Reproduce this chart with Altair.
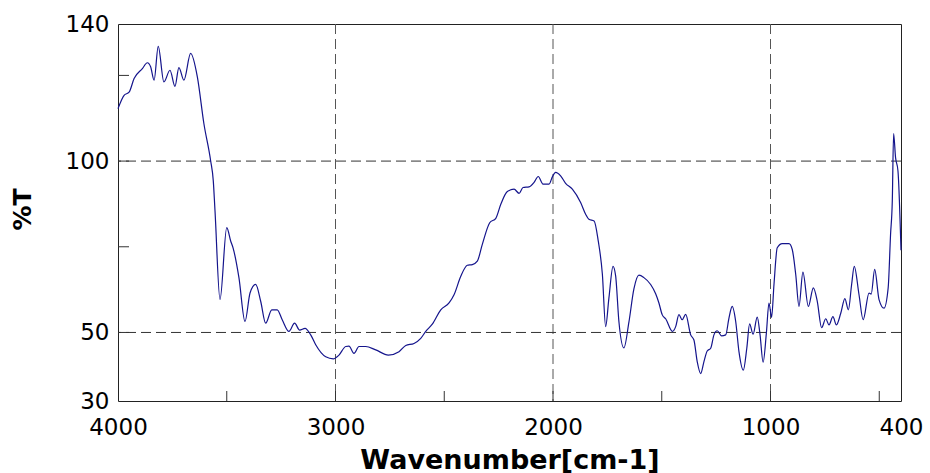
import altair as alt
import pandas as pd

# Wavenumber (cm-1) and %T
wavenumber = [4000, 3972, 3949, 3926, 3888, 3865, 3850, 3834, 3815, 3789, 3761, 3738, 3720, 3697,
              3666, 3635, 3605, 3574, 3562, 3554, 3531, 3500, 3482, 3471, 3444, 3416, 3393, 3367,
              3344, 3321, 3293, 3268, 3245, 3214, 3188, 3165, 3140, 3114, 3091, 3045, 3010, 2984,
              2953, 2938, 2915, 2892, 2861, 2815, 2757, 2708, 2677, 2639, 2608, 2585, 2555, 2516,
              2478, 2455, 2424, 2394, 2371, 2348, 2325, 2291, 2263, 2240, 2210, 2179, 2156, 2138,
              2110, 2087, 2068, 2046, 2018, 2003, 1988, 1965, 1942, 1911, 1873, 1850, 1835, 1811,
              1792, 1773, 1758, 1743, 1724, 1712, 1697, 1674, 1651, 1628, 1605, 1582, 1551, 1528,
              1513, 1498, 1482, 1451, 1436, 1421, 1406, 1390, 1367, 1352, 1337, 1321, 1306, 1291,
              1275, 1260, 1245, 1225, 1206, 1191, 1176, 1160, 1145, 1125, 1109, 1096, 1080, 1061,
              1048, 1034, 1019, 1007, 995, 984, 969, 946, 915, 900, 884, 869, 851, 826, 803, 785,
              765, 746, 731, 713, 697, 677, 658, 642, 627, 615, 593, 574, 547, 537, 521, 501, 478,
              459, 448, 440, 434, 425, 414, 400]
transmittance = [115.3, 119.2, 120.1, 124.1, 127.0, 128.7, 127.5, 123.6, 133.5, 123.1, 126.5, 121.8,
                 127.3, 123.6, 131.4, 124.5, 110.9, 100.1, 94.3, 85.5, 59.6, 80.6, 76.7, 74.7, 66.0,
                 53.2, 61.5, 64.0, 59.1, 52.7, 56.6, 56.6, 53.7, 50.3, 52.7, 50.7, 51.2, 49.3, 46.4,
                 42.9, 42.3, 43.4, 45.9, 46.0, 43.9, 45.9, 45.9, 44.9, 43.4, 44.4, 46.2, 46.8, 48.3,
                 50.3, 52.4, 56.6, 58.6, 61.0, 66.4, 69.6, 69.8, 70.8, 75.7, 82.0, 83.3, 87.4, 91.1,
                 91.8, 90.6, 92.3, 92.5, 93.8, 95.5, 93.3, 93.3, 95.4, 96.7, 95.7, 93.5, 91.8, 87.9,
                 84.5, 83.0, 82.5, 76.7, 67.0, 51.7, 60.0, 69.3, 66.5, 53.2, 45.5, 53.0, 62.7, 66.7,
                 66.0, 64.0, 61.3, 58.6, 55.2, 54.0, 50.3, 51.7, 55.2, 53.7, 55.3, 49.3, 47.8, 41.5,
                 38.0, 41.5, 44.6, 45.4, 49.3, 50.5, 49.0, 49.3, 54.2, 57.6, 53.2, 44.4, 39.0, 45.4,
                 52.5, 49.5, 54.5, 49.3, 41.3, 49.8, 58.6, 54.4, 64.0, 74.7, 75.9, 75.9, 74.2, 66.9,
                 57.6, 67.6, 57.6, 63.0, 59.1, 51.4, 54.0, 52.2, 54.6, 52.2, 55.6, 59.9, 56.6, 64.0,
                 69.3, 61.0, 53.7, 61.5, 61.2, 68.4, 59.6, 57.1, 63.0, 78.6, 88.4, 108.0, 101.0,
                 97.2, 74.0]

x_labels = [4000, 3000, 2000, 1000, 400]
y_labels = [30, 50, 100, 140]
grid_x = [3000, 2000, 1000]
grid_y = [50, 100]
minor_x = [3500, 3000, 2500, 2000, 1500, 1000, 500]
minor_y = [125, 100, 75, 50]

df = pd.DataFrame({"wn": wavenumber, "T": transmittance})
gx = pd.DataFrame({"wn": grid_x})
gy = pd.DataFrame({"T": grid_y})
mx = pd.DataFrame({"wn": minor_x})
my = pd.DataFrame({"T": minor_y})

xscale = alt.Scale(domain=[4000, 400], nice=False, zero=False)
yscale = alt.Scale(domain=[30, 140], nice=False, zero=False)

xaxis = alt.Axis(values=x_labels, format="d", grid=False, ticks=False, domain=False,
                 labelFlush=False, labelOverlap=False, labelFont="DejaVu Sans", labelFontSize=23,
                 labelColor="#000", labelBaseline="middle", labelPadding=26,
                 title="Wavenumber[cm-1]", titleFont="DejaVu Sans", titleFontSize=27,
                 titleFontWeight="bold", titleColor="#000", titleBaseline="alphabetic",
                 titleY=67)
yaxis = alt.Axis(values=y_labels, format="d", grid=False, ticks=False, domain=False,
                 labelFlush=False, labelOverlap=False, labelFont="DejaVu Sans", labelFontSize=23,
                 labelColor="#000", labelBaseline="middle", labelPadding=9,
                 title="%T", titleFont="DejaVu Sans", titleFontSize=25, titleFontWeight="bold",
                 titleColor="#000", titleBaseline="middle", titleAlign="center",
                 titleX=-96, titleY=185, titleAngle=270)

X = alt.X("wn:Q", scale=xscale, axis=xaxis)
Y = alt.Y("T:Q", scale=yscale, axis=yaxis)

line = alt.Chart(df).mark_line(color="#14148c", strokeWidth=1.2, interpolate="monotone").encode(
    x=X, y=Y
)
vgrid = alt.Chart(gx).mark_rule(color="#555", strokeWidth=1, strokeDash=[10, 5]).encode(x=X)
hgrid = alt.Chart(gy).mark_rule(color="#333", strokeWidth=1, strokeDash=[10, 5]).encode(y=Y)
xticks = alt.Chart(mx).mark_rule(color="#333", strokeWidth=1).encode(
    x=X, y=alt.value(377), y2=alt.value(367)
)
yticks = alt.Chart(my).mark_rule(color="#333", strokeWidth=1).encode(
    y=Y, x=alt.value(0), x2=alt.value(11)
)

chart = alt.layer(vgrid, hgrid, xticks, yticks, line).properties(
    width=783, height=377, autosize="none",
    padding={"left": 118, "top": 24, "right": 29, "bottom": 72},
    background="white",
).configure_view(stroke="#222", strokeWidth=1)

chart.save("out.html", embed_options={"renderer": "svg", "actions": False})
